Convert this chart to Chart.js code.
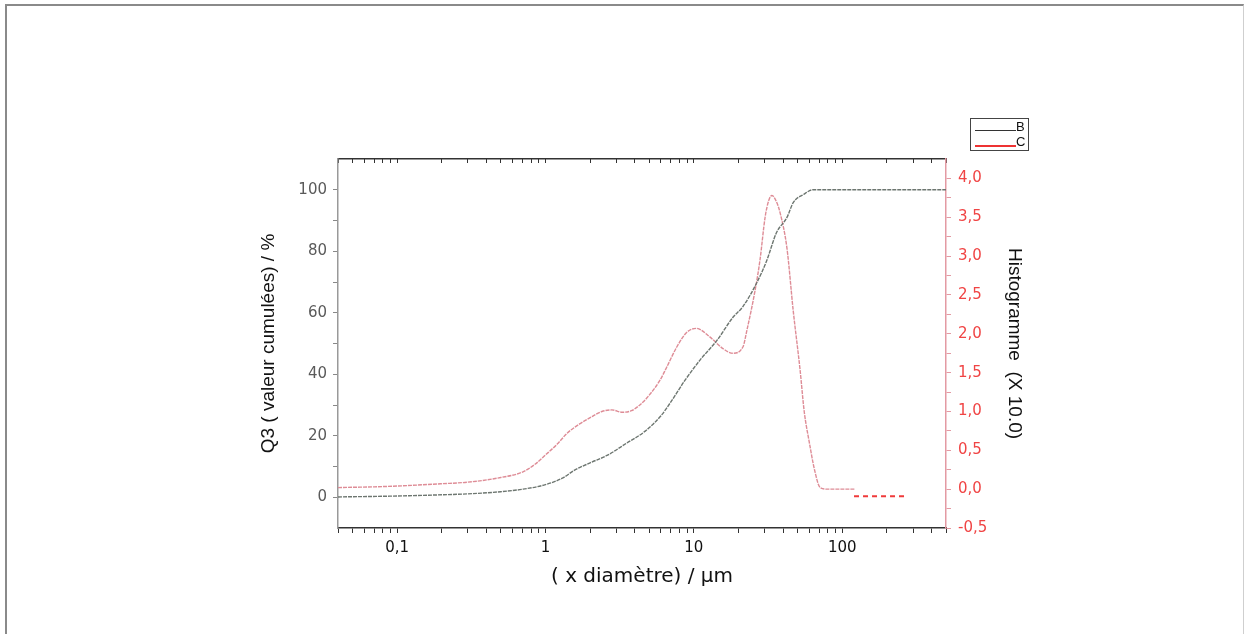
<!DOCTYPE html>
<html>
<head>
<meta charset="utf-8">
<script src="https://cdn.jsdelivr.net/npm/chart.js@4.4.0/dist/chart.umd.min.js"></script>
<style>
  body { margin: 0; background: #fff; font-family: "Liberation Sans", Arial, sans-serif; }
  #wrap { position: relative; width: 1245px; height: 634px; }
  #frame { position: absolute; left: 5px; top: 4px; width: 1236px; height: 640px;
           border-top: 2px solid #8a8a8a; border-left: 2px solid #8a8a8a; border-right: 1px solid #cfcfcf;
           pointer-events: none; }
  #legend { position: absolute; left: 970px; top: 118px; width: 57px; height: 31px;
            border: 1px solid #444; background: #fff; font-size: 13px; line-height: 14px; }
  .item { position: relative; height: 15px; }
  .item span.line { position: absolute; left: 4px; top: 11px; width: 41px; height: 0; }
  .item span.lab { position: absolute; left: 45px; top: 1px; color: #111; }
</style>
</head>
<body>
<div id="wrap">
  <canvas id="chart" width="1245" height="634"></canvas>
  <div id="frame"></div>
  <div id="legend"></div>
</div>
<script>
// Serie B : Q3 cumulée (%)
const diamB = [0.04, 0.1, 0.2, 0.3, 0.5, 0.7, 1.0, 1.3, 1.57, 2.0, 2.6, 3.5, 4.7, 6.0, 7.0, 8.7, 11, 14.3, 18.4, 21.4, 26.7, 31, 36, 42.4, 46.7, 55, 63.5, 100, 200, 500];
const q3B = [0.1, 0.4, 0.8, 1.1, 1.8, 2.6, 4.1, 6.2, 8.8, 11.2, 13.6, 17.5, 21.5, 26.5, 31, 38, 44.6, 51, 58.6, 62, 70, 77, 86, 91, 95.8, 98.5, 100, 100, 100, 100];

// Serie C : histogramme (x 10.0)
const diamC = [0.04, 0.07, 0.1, 0.2, 0.3, 0.5, 0.7, 0.85, 1.0, 1.2, 1.4, 1.7, 2.0, 2.4, 2.8, 3.3, 3.8, 4.3, 4.8, 5.9, 6.56, 7.67, 8.97, 10.4, 12.8, 15.7, 18.3, 21.4, 22.8, 25.8, 27.9, 30.2, 32, 33.6, 36, 38.2, 42.4, 46.7, 52, 55.4, 60, 65, 71, 80, 121];
const histC = [0.02, 0.03, 0.04, 0.07, 0.09, 0.15, 0.22, 0.32, 0.44, 0.58, 0.72, 0.84, 0.92, 1.0, 1.02, 0.99, 1.01, 1.08, 1.17, 1.4, 1.57, 1.83, 2.02, 2.07, 1.96, 1.81, 1.75, 1.83, 2.05, 2.55, 2.95, 3.5, 3.72, 3.78, 3.7, 3.55, 3.1, 2.3, 1.53, 1.0, 0.6, 0.25, 0.02, 0.0, 0.0];

// segment pointillé rouge
const diamD = [120, 265];
const histD = [-0.09, -0.09];

const xMin = 0.04, xMax = 500;

function pts(xs, ys) { return xs.map((x, i) => ({ x: x, y: ys[i] })); }

function logTicks(scale) {
  const t = [];
  [0.01, 0.1, 1, 10, 100].forEach(d => {
    for (let m = 1; m <= 9; m++) {
      const v = +(m * d).toPrecision(3);
      if (v >= xMin && v <= xMax) t.push({ value: v });
    }
  });
  scale.ticks = t;
}
function isDecade(v) { const l = Math.log10(v); return Math.abs(l - Math.round(l)) < 1e-9; }

const grey = '#5a5a5a';
const red = '#f04444';
const tickFont = { family: 'DejaVu Sans', size: 15 };
const legendColors = { B: '#333333', C: '#ee3333' };

const chart = new Chart(document.getElementById('chart'), {
  type: 'line',
  data: {
    datasets: [
      { label: 'B', data: pts(diamB, q3B), xAxisID: 'x', yAxisID: 'y',
        borderColor: '#6d7670', borderWidth: 1.4, borderDash: [4, 1], pointRadius: 0,
        cubicInterpolationMode: 'monotone' },
      { label: 'C', data: pts(diamC, histC), xAxisID: 'x', yAxisID: 'y1',
        borderColor: '#de8c96', borderWidth: 1.4, borderDash: [4, 1], pointRadius: 0,
        cubicInterpolationMode: 'monotone' },
      { label: 'D', data: pts(diamD, histD), xAxisID: 'x', yAxisID: 'y1',
        borderColor: '#f03a3a', borderWidth: 2, borderDash: [5, 4], pointRadius: 0 }
    ]
  },
  options: {
    responsive: false,
    animation: false,
    layout: { padding: 0 },
    plugins: { legend: { display: false }, tooltip: { enabled: false } },
    scales: {
      x: {
        type: 'logarithmic', position: 'bottom', min: xMin, max: xMax,
        afterBuildTicks: logTicks,
        afterFit: s => { s.height = 106; },
        grid: { drawOnChartArea: false, drawTicks: true, tickLength: 5, color: '#333' },
        border: { display: true, color: '#333', width: 1.5 },
        ticks: { autoSkip: false, maxRotation: 0, padding: 6, color: '#111', font: tickFont,
                 callback: v => isDecade(v) ? String(v).replace('.', ',') : '' },
        title: { display: true, text: '( x diamètre) / µm', color: '#111',
                 font: { family: 'DejaVu Sans', size: 20 }, padding: { top: 0, bottom: 45 } }
      },
      xTop: {
        type: 'logarithmic', position: 'top', min: xMin, max: xMax,
        afterBuildTicks: logTicks,
        afterFit: s => { s.height = 159; },
        grid: { drawOnChartArea: false, drawTicks: true, tickLength: -4, color: '#333' },
        border: { display: true, color: '#333', width: 1.5 },
        ticks: { display: false }
      },
      y: {
        position: 'left', min: -10, max: 110,
        afterBuildTicks: s => { s.ticks = [0, 10, 20, 30, 40, 50, 60, 70, 80, 90, 100].map(v => ({ value: v })); },
        afterFit: s => { s.width = 338; },
        grid: { drawOnChartArea: false, drawTicks: true, tickLength: 5, color: '#888' },
        border: { display: true, color: '#999', width: 1.5 },
        ticks: { autoSkip: false, padding: 6, color: grey, font: tickFont,
                 callback: v => v % 20 === 0 ? String(v) : '' },
        title: { display: true, text: 'Q3 ( valeur cumulées) / %', color: '#111',
                 font: { family: 'Liberation Sans', size: 19 }, padding: { top: 257, bottom: 0 } }
      },
      y1: {
        position: 'right', min: -0.5, max: 4.25,
        afterBuildTicks: s => { const t = []; for (let i = -2; i <= 16; i++) t.push({ value: i * 0.25 }); s.ticks = t; },
        afterFit: s => { s.width = 299; },
        grid: { drawOnChartArea: false, drawTicks: true, tickLength: 5, color: '#e39aa3' },
        border: { display: true, color: '#e39aa3', width: 1.5 },
        ticks: { autoSkip: false, padding: 7, color: red, font: tickFont,
                 callback: v => (Math.round(v * 4) % 2 === 0) ? v.toFixed(1).replace('.', ',') : '' },
        title: { display: true, text: 'Histogramme  (X 10.0)', color: '#111',
                 font: { family: 'Liberation Sans', size: 19 }, padding: { top: 219, bottom: 0 } }
      }
    }
  }
});

// légende
const leg = document.getElementById('legend');
['B', 'C'].forEach(name => {
  const it = document.createElement('div');
  it.className = 'item';
  const line = document.createElement('span');
  line.className = 'line';
  line.style.borderTop = (name === 'C' ? '2px' : '1px') + ' solid ' + legendColors[name];
  const lab = document.createElement('span');
  lab.className = 'lab';
  lab.textContent = name;
  it.appendChild(line);
  it.appendChild(lab);
  leg.appendChild(it);
});
</script>
</body>
</html>
